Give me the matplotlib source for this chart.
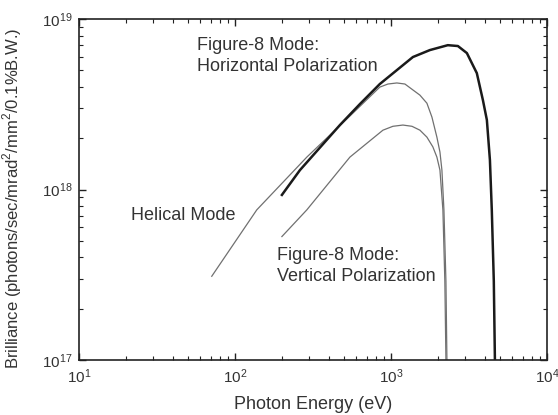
import matplotlib
matplotlib.use('Agg')
import matplotlib.pyplot as plt
from matplotlib.ticker import LogLocator, NullFormatter

plt.rcParams['font.family'] = ['Liberation Sans', 'DejaVu Sans']
plt.rcParams['mathtext.fontset'] = 'custom'
plt.rcParams['mathtext.rm'] = 'Liberation Sans'

# Figure-8 mode, horizontal polarization (thick)
horiz_e = [200, 261, 471, 632, 849, 1384, 1778, 2317, 2689, 3070, 3556, 3890, 4125,
           4315, 4436, 4570, 4645]
horiz_b = [9.3e17, 1.30e18, 2.39e18, 3.17e18, 4.16e18, 5.99e18, 6.58e18, 7.03e18,
           6.95e18, 6.32e18, 4.82e18, 3.35e18, 2.56e18, 1.49e18, 7.6e17, 2.9e17, 1.0e17]

# helical mode
helical_e = [71, 138, 289, 546, 849, 957, 1092, 1230, 1384, 1535, 1702, 1833, 1972,
             2063, 2124, 2188, 2254, 2287]
helical_b = [3.1e17, 7.6e17, 1.55e18, 2.70e18, 3.99e18, 4.16e18, 4.22e18, 4.16e18,
             3.84e18, 3.58e18, 3.21e18, 2.66e18, 2.03e18, 1.66e18, 1.30e18, 7.6e17,
             2.9e17, 1.0e17]

# Figure-8 mode, vertical polarization
vert_e = [200, 289, 546, 889, 1030, 1194, 1365, 1535, 1702, 1858, 1972, 2063, 2155,
          2218, 2254]
vert_b = [5.3e17, 7.6e17, 1.55e18, 2.23e18, 2.35e18, 2.39e18, 2.35e18, 2.23e18,
          2.03e18, 1.78e18, 1.55e18, 1.30e18, 7.6e17, 2.9e17, 1.0e17]

fig = plt.figure(figsize=(5.58, 4.15), dpi=100)
ax = fig.add_axes([0.1416, 0.1325, 0.8384, 0.8215])

ax.plot(helical_e, helical_b, color='#707070', lw=0.9)
ax.plot(vert_e, vert_b, color='#707070', lw=0.9)
ax.plot(horiz_e, horiz_b, color='#1a1a1a', lw=1.8)

ax.set_xscale('log')
ax.set_yscale('log')
ax.set_xlim(10, 1e4)
ax.set_ylim(1e17, 1e19)

ax.xaxis.set_minor_locator(LogLocator(base=10, subs=range(2, 10)))
ax.yaxis.set_minor_locator(LogLocator(base=10, subs=range(2, 10)))
ax.xaxis.set_minor_formatter(NullFormatter())
ax.yaxis.set_minor_formatter(NullFormatter())
ax.tick_params(which='both', direction='in', top=True, right=True, labelsize=11,
               color='#222222', labelcolor='#333333')
ax.tick_params(which='major', length=5, width=1, pad=5)
ax.tick_params(which='minor', length=3, width=0.8)
for s in ax.spines.values():
    s.set_linewidth(1.2)
    s.set_color('#222222')

ax.set_xlabel('Photon Energy (eV)', fontsize=13, color='#333333')
ax.set_ylabel('Brilliance (photons/sec/mrad$^2$/mm$^2$/0.1%B.W.)', fontsize=12,
              color='#333333')
ax.xaxis.set_label_coords(0.5, -0.105)
ax.yaxis.set_label_coords(-0.117, 0.475)

ax.text(57, 6.07e18, 'Figure-8 Mode:\nHorizontal Polarization', fontsize=13,
        color='#333333', va='center', ha='left', linespacing=1.35)
ax.text(21.5, 7.0e17, 'Helical Mode', fontsize=13, color='#333333', va='center', ha='left')
ax.text(186, 3.55e17, 'Figure-8 Mode:\nVertical Polarization', fontsize=13,
        color='#333333', va='center', ha='left', linespacing=1.35)

fig.savefig('out.png', dpi=100)
